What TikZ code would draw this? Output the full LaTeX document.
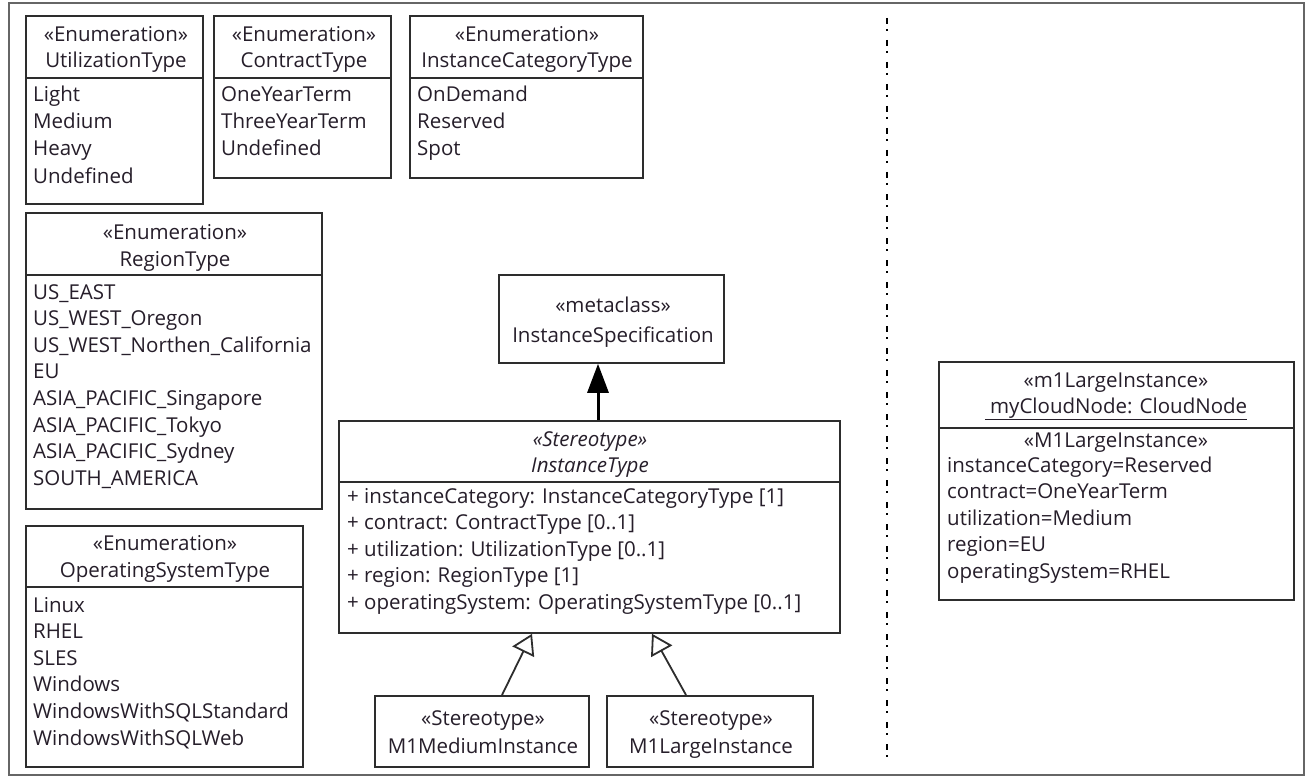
\documentclass[tikz,border=0pt]{standalone}
\usepackage{fontspec}
\setmainfont{Open Sans}
\usetikzlibrary{arrows.meta,calc}
\definecolor{ink}{RGB}{38,30,42}
\definecolor{edge}{RGB}{45,45,45}
\tikzset{
  box/.style={draw=edge, line width=1.8pt, inner sep=0pt, anchor=north west},
  divline/.style={draw=edge, line width=1.8pt},
  txt/.style={inner sep=0pt, text=ink, font=\fontsize{20.5}{24}\selectfont},
  lt/.style={txt, anchor=base west},
  ct/.style={txt, anchor=base},
  frame/.style={draw=black!60, line width=1.5pt},
  dashdot/.style={draw=black, line width=2pt, dash pattern=on 6pt off 5pt on 2pt off 9pt},
  realize/.style={draw=black, line width=3pt, -{Triangle[length=29pt, width=21pt]}},
  gen/.style={draw=edge, line width=1.8pt, -{Triangle[open, length=20pt, width=24pt, fill=white]}}
}
\begin{document}
\begin{tikzpicture}[x=1pt, y=-1pt]
\useasboundingbox (0,0) rectangle (1305,778);
\fill[white] (0,0) rectangle (1305,778);
\draw[frame] (9,3) rectangle (1304,775);
\draw[dashdot] (887,18) -- (887,765);

% UtilizationType
\node[box, minimum width=177pt, minimum height=188pt] (util) at (25,15) {};
\draw[divline] (util.west |- 0,78) -- (util.east |- 0,78);
\node[ct] (util-s) at (116,42) {«Enumeration»};
\node[ct] (util-n) at (116,68) {UtilizationType};
\foreach \t [count=\i] in {Light,Medium,Heavy,Undefined}
  \node[lt] (util-\i) at (33,{102+27*(\i-1)}) {\t};

% ContractType
\node[box, minimum width=177pt, minimum height=162pt] (contract) at (213,15) {};
\draw[divline] (contract.west |- 0,78) -- (contract.east |- 0,78);
\node[ct] (contract-s) at (304,42) {«Enumeration»};
\node[ct] (contract-n) at (304,68) {ContractType};
\foreach \t [count=\i] in {OneYearTerm,ThreeYearTerm,Undefined}
  \node[lt] (contract-\i) at (221,{102+27*(\i-1)}) {\t};

% InstanceCategoryType
\node[box, minimum width=233pt, minimum height=162pt] (icat) at (409,15) {};
\draw[divline] (icat.west |- 0,78) -- (icat.east |- 0,78);
\node[ct] (icat-s) at (527,42) {«Enumeration»};
\node[ct] (icat-n) at (527,68) {InstanceCategoryType};
\foreach \t [count=\i] in {OnDemand,Reserved,Spot}
  \node[lt] (icat-\i) at (417,{102+27*(\i-1)}) {\t};

% RegionType
\node[box, minimum width=296pt, minimum height=296pt] (region) at (25,212) {};
\draw[divline] (region.west |- 0,275) -- (region.east |- 0,275);
\node[ct] (region-s) at (175,239) {«Enumeration»};
\node[ct] (region-n) at (175,266) {RegionType};
\foreach \t [count=\i] in {US\_EAST,US\_WEST\_Oregon,US\_WEST\_Northen\_California,EU,ASIA\_PACIFIC\_Singapore,ASIA\_PACIFIC\_Tokyo,ASIA\_PACIFIC\_Sydney,SOUTH\_AMERICA}
  \node[lt] (region-\i) at (33,{299+26.6*(\i-1)}) {\t};

% OperatingSystemType
\node[box, minimum width=277pt, minimum height=241pt] (os) at (25,525) {};
\draw[divline] (os.west |- 0,587) -- (os.east |- 0,587);
\node[ct] (os-s) at (165,550) {«Enumeration»};
\node[ct] (os-n) at (165,577) {OperatingSystemType};
\foreach \t [count=\i] in {Linux,RHEL,SLES,Windows,WindowsWithSQLStandard,WindowsWithSQLWeb}
  \node[lt] (os-\i) at (33,{612+26.6*(\i-1)}) {\t};

% InstanceSpecification
\node[box, minimum width=225pt, minimum height=88pt] (ispec) at (498,274) {};
\node[ct] (ispec-s) at (613,312) {«metaclass»};
\node[ct] (ispec-n) at (613,342) {InstanceSpecification};

% InstanceType
\node[box, minimum width=501pt, minimum height=212pt] (itype) at (338,420) {};
\draw[divline] (itype.west |- 0,482) -- (itype.east |- 0,482);
\node[ct] (itype-s) at (590,446) {\itshape «Stereotype»};
\node[ct] (itype-n) at (590,472) {\itshape InstanceType};
\foreach \t [count=\i] in {{+ instanceCategory: InstanceCategoryType [1]},{+ contract: ContractType [0..1]},{+ utilization: UtilizationType [0..1]},{+ region: RegionType [1]},{+ operatingSystem: OperatingSystemType [0..1]}}
  \node[lt] (itype-\i) at (347,{503+26.5*(\i-1)}) {\t};

% M1MediumInstance
\node[box, minimum width=214pt, minimum height=71pt] (m1med) at (374,695) {};
\node[ct] (m1med-s) at (483,725) {«Stereotype»};
\node[ct] (m1med-n) at (483,753) {M1MediumInstance};

% M1LargeInstance
\node[box, minimum width=206pt, minimum height=71pt] (m1large) at (606,695) {};
\node[ct] (m1large-s) at (711,725) {«Stereotype»};
\node[ct] (m1large-n) at (711,753) {M1LargeInstance};

% myCloudNode
\node[box, minimum width=355pt, minimum height=238pt] (cloud) at (938,361) {};
\draw[divline] (cloud.west |- 0,428) -- (cloud.east |- 0,428);
\node[ct] (cloud-s) at (1116,387) {«m1LargeInstance»};
\node[ct] (cloud-n) at (1116,413) {\underline{\ myCloudNode: CloudNode}};
\node[ct] (cloud-st) at (1116,447) {«M1LargeInstance»};
\foreach \t [count=\i] in {instanceCategory=Reserved,contract=OneYearTerm,utilization=Medium,region=EU,operatingSystem=RHEL}
  \node[lt] (cloud-\i) at (947,{472+26.5*(\i-1)}) {\t};

% connectors
\draw[realize] ($(itype.north west)+(260,0)$) -- ($(ispec.south west)+(100,0)$);
\draw[gen] ($(m1med.north west)+(128,0)$) -- ($(itype.south west)+(194,0)$);
\draw[gen] ($(m1large.north west)+(80,0)$) -- ($(itype.south west)+(314,0)$);
\end{tikzpicture}
\end{document}
